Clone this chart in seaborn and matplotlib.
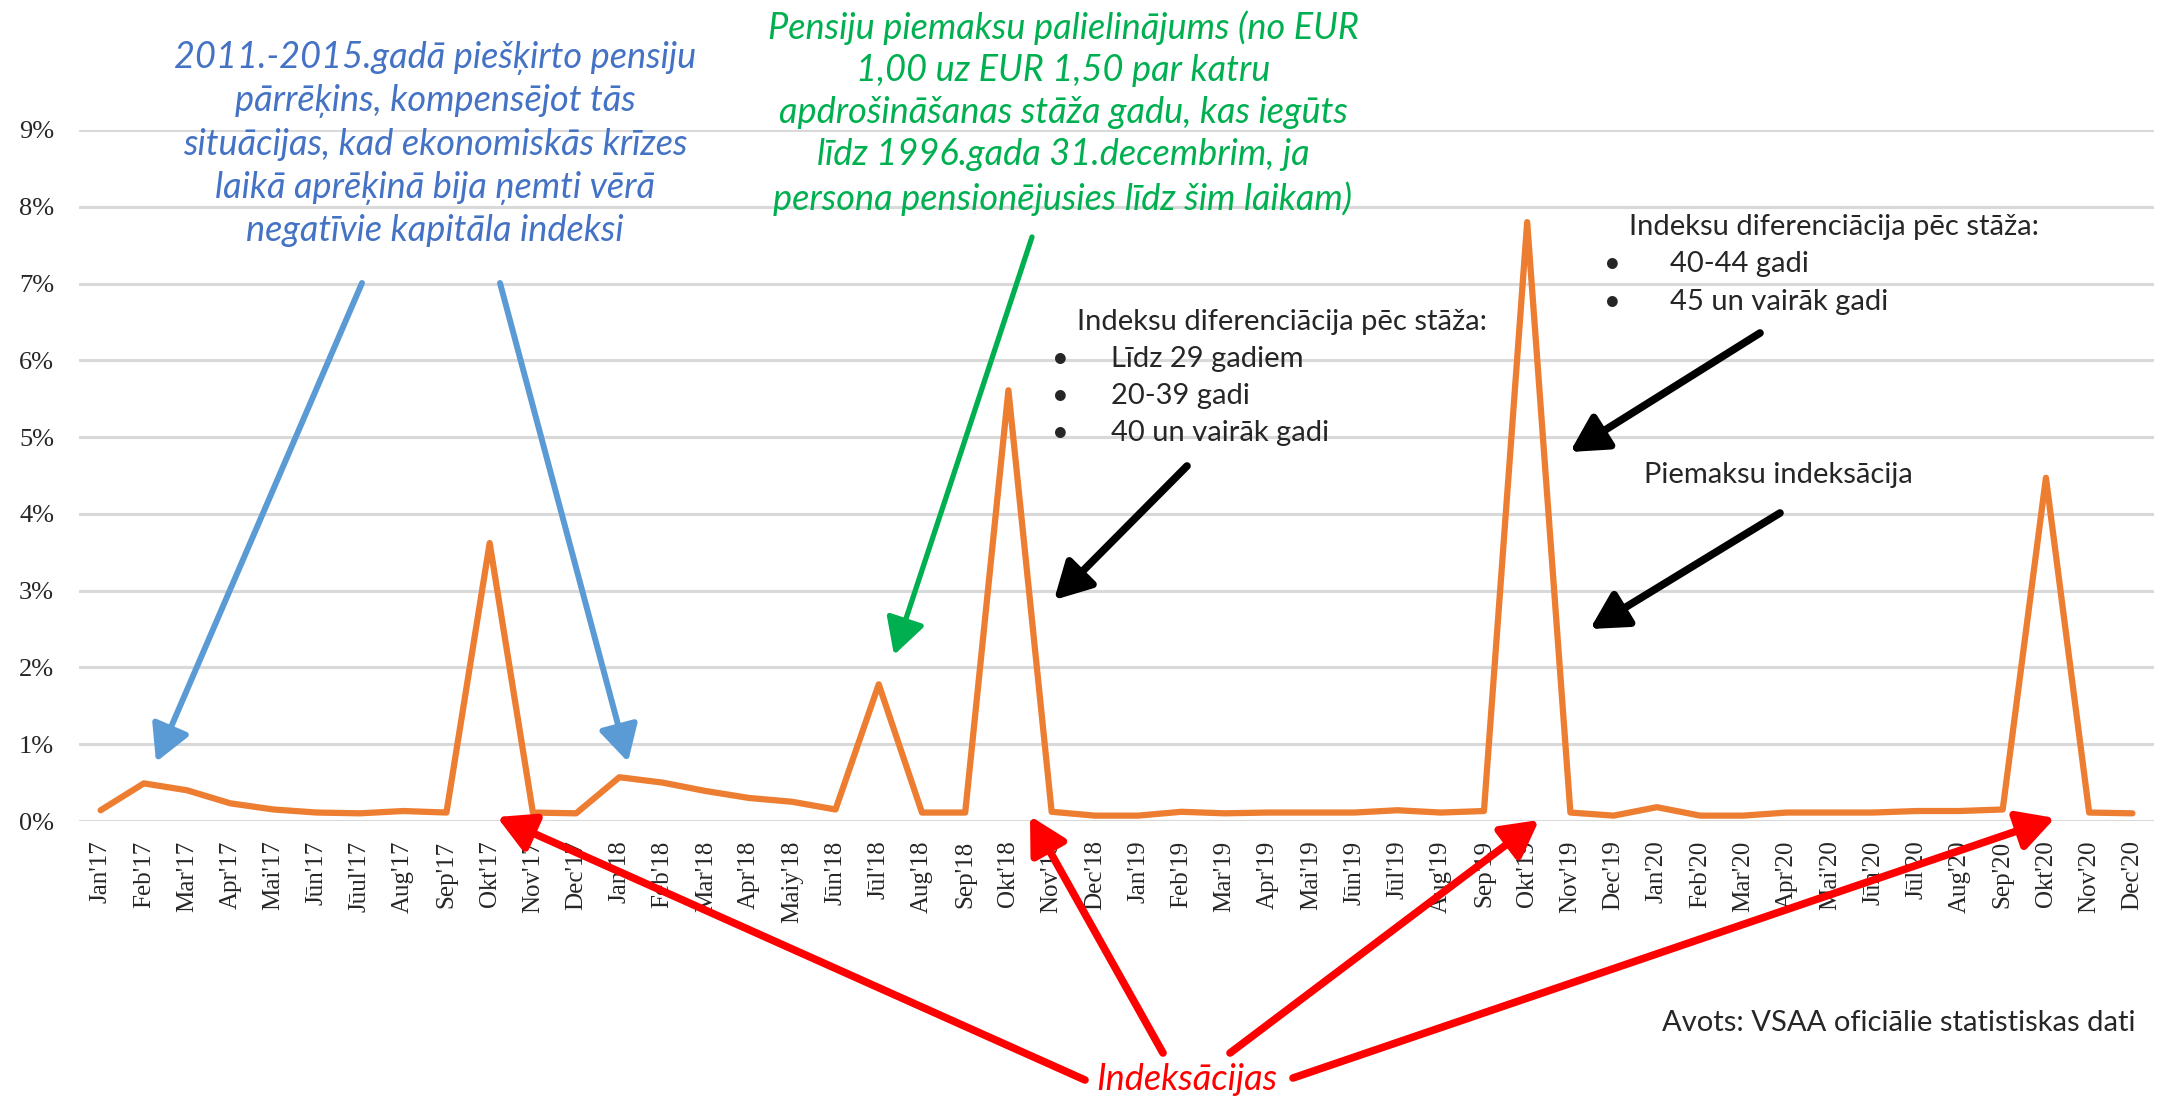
import pandas as pd
import seaborn as sns
import matplotlib.pyplot as plt

# ===============================
# Data
# ===============================

months = ["Jan'17", "Feb'17", "Mar'17", "Apr'17", "Mai'17", "Jūn'17", "Jūul'17", "Aug'17",
          "Sep'17", "Okt'17", "Nov'17", "Dec'17",
          "Jan'18", "Feb'18", "Mar'18", "Apr'18", "Maiy'18", "Jūn'18", "Jūl'18", "Aug'18",
          "Sep'18", "Okt'18", "Nov'18", "Dec'18",
          "Jan'19", "Feb'19", "Mar'19", "Apr'19", "Mai'19", "Jūn'19", "Jūl'19", "Aug'19",
          "Sep'19", "Okt'19", "Nov'19", "Dec'19",
          "Jan'20", "Feb'20", "Mar'20", "Apr'20", "Mai'20", "Jūn'20", "Jūl'20", "Aug'20",
          "Sep'20", "Okt'20", "Nov'20", "Dec'20"]

# monthly index, %
values = [0.14, 0.49, 0.40, 0.23, 0.15, 0.11, 0.10, 0.13, 0.11, 3.62, 0.11, 0.10,
          0.57, 0.50, 0.39, 0.30, 0.25, 0.15, 1.78, 0.11, 0.11, 5.61, 0.12, 0.07,
          0.07, 0.12, 0.10, 0.11, 0.11, 0.11, 0.14, 0.11, 0.13, 7.80, 0.11, 0.07,
          0.18, 0.07, 0.07, 0.11, 0.11, 0.11, 0.13, 0.13, 0.15, 4.47, 0.11, 0.10]

y_ticks = [0, 1, 2, 3, 4, 5, 6, 7, 8, 9]

df = pd.DataFrame({"idx": range(len(months)), "month": months, "value": values})

# ===============================
# Figure
# ===============================

sns.set_style("white")
plt.rcParams['font.family'] = ['Lato', 'DejaVu Sans']

W, H = 2164, 1099
fig = plt.figure(figsize=(W / 100, H / 100), dpi=100)
ax = fig.add_axes([79 / W, 1 - 821 / H, (2154 - 79) / W, (821 - 130) / H])

sns.lineplot(data=df, x="idx", y="value", color="#ED7D31", linewidth=4.5, ax=ax)

ax.set_xlim(-0.5, len(months) - 0.5)
ax.set_ylim(0, 9)
ax.set_yticks(y_ticks)
ax.set_yticklabels([f"{t}%" for t in y_ticks], fontfamily="Liberation Serif", fontsize=19)
ax.set_xticks(df["idx"])
ax.set_xticklabels(months, rotation=90, fontfamily="Liberation Serif", fontsize=18)
ax.tick_params(axis="both", length=0)
ax.tick_params(axis="y", pad=18)
ax.tick_params(axis="x", pad=14)
ax.set_xlabel("")
ax.set_ylabel("")
ax.yaxis.grid(True, color="#D9D9D9", linewidth=2.2)
ax.set_axisbelow(True)
sns.despine(ax=ax, left=True, bottom=True)


def fp(x, y):
    # pixel from top-left -> figure fraction
    return (x / W, 1 - y / H)


def arrow(tail, head, color, lw, ms=40):
    ax.annotate("", xy=fp(*head), xytext=fp(*tail),
                xycoords="figure fraction", textcoords="figure fraction",
                arrowprops=dict(arrowstyle="-|>,head_length=0.55,head_width=0.3",
                                color=color, lw=lw, mutation_scale=ms,
                                shrinkA=0, shrinkB=0))


def txt(x, y, s, **kw):
    fig.text(*fp(x, y), s, **kw)


# ===============================
# Annotations
# ===============================

blue_txt = ("2011.-2015.gadā piešķirto pensiju\npārrēķins, kompensējot tās\n"
            "situācijas, kad ekonomiskās krīzes\nlaikā aprēķinā bija ņemti vērā\n"
            "negatīvie kapitāla indeksi")
txt(435, 144, blue_txt, color="#4472C4", fontsize=26, style="italic",
    ha="center", va="center", linespacing=1.36)
arrow((362, 283), (156, 762), "#5B9BD5", 4.3)
arrow((500, 283), (628, 762), "#5B9BD5", 4.3)

green_txt = ("Pensiju piemaksu palielinājums (no EUR\n1,00 uz EUR 1,50 par katru\n"
             "apdrošināšanas stāža gadu, kas iegūts\nlīdz 1996.gada 31.decembrim, ja\n"
             "persona pensionējusies līdz šim laikam)")
txt(1063, 113, green_txt, color="#00B050", fontsize=26, style="italic",
    ha="center", va="center", linespacing=1.34)
arrow((1032, 237), (894, 655), "#00B050", 3.8)

# first differentiation block
txt(1077, 322, "Indeksu diferenciācija pēc stāža:", fontsize=21, va="center")
for yy, s in zip([359, 396, 433], ["Līdz 29 gadiem", "20-39 gadi", "40 un vairāk gadi"]):
    txt(1060, yy, "•", fontsize=21, va="center", ha="center")
    txt(1111, yy, s, fontsize=21, va="center")
arrow((1187, 466), (1054, 600), "black", 5.5)

# second differentiation block
txt(1629, 227, "Indeksu diferenciācija pēc stāža:", fontsize=21, va="center")
for yy, s in zip([264, 302], ["40-44 gadi", "45 un vairāk gadi"]):
    txt(1612, yy, "•", fontsize=21, va="center", ha="center")
    txt(1670, yy, s, fontsize=21, va="center")
arrow((1760, 333), (1570, 452), "black", 5.5)

txt(1644, 475, "Piemaksu indeksācija", fontsize=21, va="center")
arrow((1780, 513), (1590, 629), "black", 5.5)

# indexations
txt(1187, 1080, "Indeksācijas", color="#FF0000", fontsize=26, style="italic",
    ha="center", va="center")
arrow((1085, 1080), (497, 817), "#FF0000", 5.5)
arrow((1163, 1053), (1030, 816), "#FF0000", 5.5)
arrow((1230, 1053), (1539, 820), "#FF0000", 5.5)
arrow((1293, 1078), (2055, 818), "#FF0000", 5.5)

txt(2136, 1023, "Avots: VSAA oficiālie statistiskas dati", fontsize=21,
    ha="right", va="center")

fig.savefig("out.png", dpi=100)
